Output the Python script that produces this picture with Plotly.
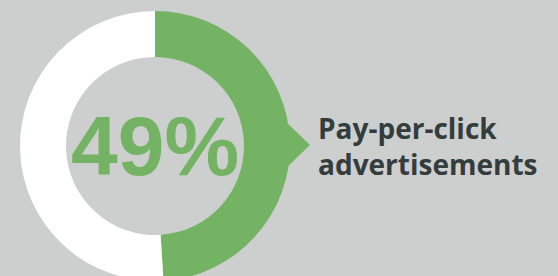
import plotly.graph_objects as go

# Data
labels = ["Pay-per-click advertisements", "Other"]
values = [49, 51]
center_text = "49%"
label_text = "Pay-per-click<br>advertisements"

GREEN = "#74B364"
WHITE = "#FFFFFF"
BG = "#CDCFCE"
DARK = "#343C3C"

W, H = 558, 292

fig = go.Figure()
fig.add_trace(go.Pie(
    labels=labels,
    values=values,
    marker=dict(colors=[GREEN, WHITE], line=dict(width=0)),
    hole=89 / 135,
    sort=False,
    direction="clockwise",
    rotation=0,
    textinfo="none",
    hoverinfo="skip",
    showlegend=False,
    domain=dict(x=[20 / W, 290 / W], y=[11 / H, 281 / H]),
))

# invisible pixel-coordinate axes for the annotations and pointer
fig.update_xaxes(range=[0, W], visible=False, fixedrange=True)
fig.update_yaxes(range=[H, 0], visible=False, fixedrange=True)

fig.add_shape(type="path", path="M 280 116 L 310 145 L 280 174 Z",
              fillcolor=GREEN, line=dict(width=0), xref="x", yref="y")

fig.add_annotation(x=155, y=146, xref="x", yref="y", text=center_text,
                   showarrow=False, xanchor="center", yanchor="middle",
                   font=dict(family="Liberation Sans, Arial", size=84, color=GREEN, weight="bold"))
fig.add_annotation(x=316, y=146, xref="x", yref="y", text=label_text,
                   showarrow=False, xanchor="left", yanchor="middle", align="left",
                   font=dict(family="Open Sans", size=28, color=DARK, weight="bold"))

fig.update_layout(
    width=W, height=H,
    margin=dict(l=0, r=0, t=0, b=0),
    paper_bgcolor=BG, plot_bgcolor=BG,
)

fig.write_html(
    "out.html",
    config={"displayModeBar": False, "staticPlot": True},
    post_script=(
        "document.body.style.margin='0';"
        "document.body.style.overflow='hidden';"
        "document.documentElement.style.overflow='hidden';"
        "document.body.style.background='" + BG + "';"
    ),
)
